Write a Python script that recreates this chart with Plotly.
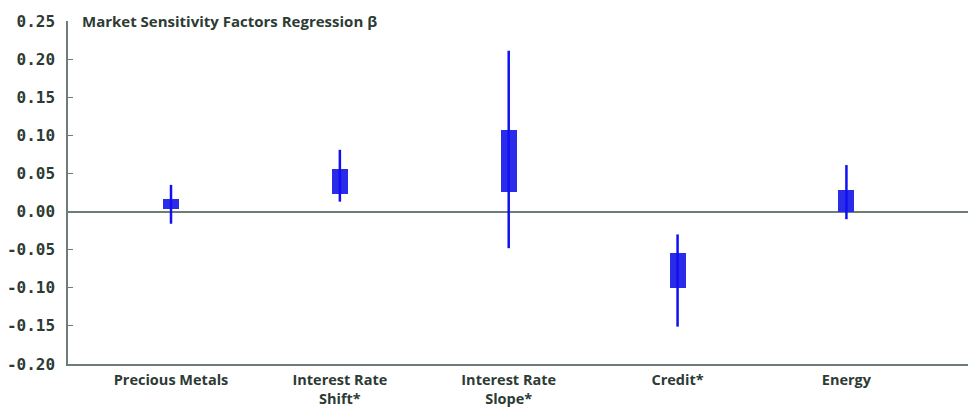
import plotly.graph_objects as go

categories = ["Precious Metals", "Interest Rate<br>Shift*", "Interest Rate<br>Slope*", "Credit*", "Energy"]
whisker_low = [-0.016, 0.013, -0.048, -0.151, -0.010]
box_low = [0.003, 0.023, 0.026, -0.100, -0.001]
box_high = [0.017, 0.056, 0.107, -0.054, 0.028]
whisker_high = [0.035, 0.081, 0.211, -0.030, 0.061]
ytick_vals = [0.25, 0.20, 0.15, 0.10, 0.05, 0.00, -0.05, -0.10, -0.15, -0.20]
ytick_text = ["0.25", "0.20", "0.15", "0.10", "0.05", "0.00", "-0.05", "-0.10", "-0.15", "-0.20"]
title_text = "Market Sensitivity Factors Regression β"

xpos = list(range(len(categories)))

wx, wy = [], []
for i in xpos:
    wx += [i, i, None]
    wy += [whisker_low[i], whisker_high[i], None]

fig = go.Figure()
fig.add_trace(go.Scatter(x=wx, y=wy, mode="lines",
                         line=dict(color="#1010F2", width=2.5),
                         hoverinfo="skip", showlegend=False))
fig.add_trace(go.Bar(x=xpos, y=[h - l for h, l in zip(box_high, box_low)], base=box_low,
                     width=0.095, marker=dict(color="#2B2BEA", line=dict(width=0)),
                     showlegend=False))

axis_col = "#6E7D76"
text_col = "#2D3B34"

fig.update_layout(
    width=972, height=408,
    margin=dict(l=68, r=4, t=21, b=44),
    paper_bgcolor="white", plot_bgcolor="white",
    font=dict(family="Open Sans", color=text_col),
    xaxis=dict(range=[-0.61, 4.72], tickvals=xpos, ticktext=categories,
               automargin=False,
               showgrid=False, zeroline=False, showline=True, linecolor=axis_col,
               linewidth=1.5, ticks="", ticklabelstandoff=2,
               tickfont=dict(family="Open Sans", size=14.5, color=text_col,
                             weight="bold")),
    yaxis=dict(range=[-0.20, 0.25], tickvals=ytick_vals, ticktext=ytick_text,
               automargin=False,
               showgrid=False, zeroline=True, zerolinecolor=axis_col, zerolinewidth=1.5,
               showline=True, linecolor=axis_col, linewidth=1.5,
               ticks="inside", ticklen=5, tickcolor=axis_col, tickwidth=1.2,
               ticklabelstandoff=8,
               tickfont=dict(family="DejaVu Sans Mono", size=16, color=text_col,
                             weight="bold")),
    annotations=[dict(text=title_text, xref="paper", yref="y", x=0.013, y=0.25,
                      xanchor="left", yanchor="middle", showarrow=False,
                      font=dict(family="Open Sans", size=15, color=text_col, weight="bold"))],
    bargap=0,
)

fig.write_html("out.html", config={"displayModeBar": False},
               post_script="document.body.style.margin='0';document.body.style.padding='0';")
